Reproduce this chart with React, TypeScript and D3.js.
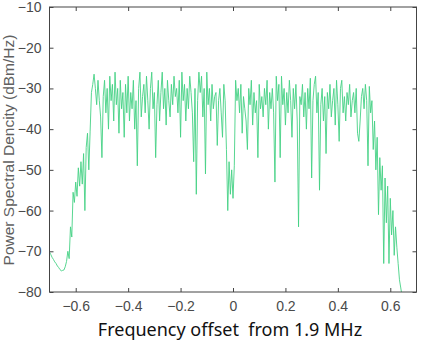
import { useEffect, useRef } from 'react'
import * as d3 from 'd3'

// frequency grid (MHz offset) - evenly spaced bins
const FREQ_START = -0.7
const FREQ_STEP = 0.005

// PSD in dBm/Hz
const leftSkirt = [
  -70.2, -70.8, -71.5, -72.0, -72.6, -73.0, -73.6, -74.0, -74.5, -74.8,
  -74.7, -74.6, -73.8, -72.5, -70.0, -71.8, -64.0, -66.5, -55.5, -58.0,
  -53.0, -56.5, -49.5, -54.0, -48.0, -53.5, -46.0, -60.0, -44.5, -41.0,
  -50.0, -40.5,
]

const plateau = [
  -31, -29, -26.5, -30, -34, -28, -33, -37, -47, -32,
  -28, -36, -30, -40, -27, -33, -29, -38, -26, -34,
  -30, -41, -28, -35, -31, -42, -29, -36, -27, -38,
  -31, -35, -28, -40, -33, -49, -30, -26, -37, -32,
  -29, -36, -27, -33, -40, -30, -26, -35, -31, -47,
  -34, -28, -38, -31, -26, -35, -30, -39, -28, -33,
  -37, -29, -34, -27, -32, -30, -36, -28, -42, -26,
  -33, -29, -38, -30, -35, -27, -31, -36, -48, -30,
  -56, -33, -26, -31, -27, -37, -30, -51, -26, -34,
  -30, -38, -29, -35, -32, -31, -44, -33, -30, -36,
  -42, -29, -33, -45, -60, -48, -56, -50, -57, -49,
  -28, -33, -30, -36, -29, -41, -32, -35, -38, -45,
  -30, -34, -28, -39, -31, -36, -33, -47, -29, -35,
  -32, -37, -30, -34, -28, -40, -31, -35, -30, -36,
  -53, -27, -33, -29, -47, -27, -34, -30, -39, -31,
  -36, -28, -33, -42, -30, -35, -29, -38, -64, -32,
  -34, -29, -37, -31, -40, -30, -35, -27.5, -52, -33,
  -29, -27, -36, -31, -55, -34, -30, -38, -32, -46,
  -31, -35, -29, -37, -33, -30, -39, -28, -34, -43,
  -30, -28, -36, -32, -38, -31, -34, -29, -37, -33,
  -31, -36, -30, -41, -43, -38, -32, -30, -35, -29,
  -33, -49,
]

const rightSkirt = [
  -29.5, -36, -33, -45, -38, -50, -42, -61, -47, -55,
  -49, -73, -52, -63, -54, -73, -57, -66, -60, -71,
  -64, -69, -73, -77, -79, -81,
]

const xTicks = [-0.6, -0.4, -0.2, 0, 0.2, 0.4, 0.6]
const yTicks = [-80, -70, -60, -50, -40, -30, -20, -10]

export default function App() {
  const svgRef = useRef<SVGSVGElement>(null)

  useEffect(() => {
    if (!svgRef.current) return

    const values = [...leftSkirt, ...plateau, ...rightSkirt]
    const data = values.map((v, i) => ({ f: FREQ_START + i * FREQ_STEP, v }))

    const W = 421, H = 343
    const margin = { top: 7, right: 4.5, bottom: 51, left: 49.5 }
    const width = W - margin.left - margin.right
    const height = H - margin.top - margin.bottom

    d3.select(svgRef.current).selectAll('*').remove()

    const root = d3.select(svgRef.current)
      .attr('width', W)
      .attr('height', H)

    const svg = root.append('g')
      .attr('transform', `translate(${margin.left},${margin.top})`)

    const x = d3.scaleLinear().domain([-0.7, 0.7]).range([0, width])
    const y = d3.scaleLinear().domain([-80, -10]).range([height, 0])

    svg.append('clipPath').attr('id', 'plot-clip')
      .append('rect').attr('width', width).attr('height', height)

    // trace
    const line = d3.line<{ f: number; v: number }>()
      .x(d => x(d.f))
      .y(d => y(d.v))

    svg.append('path')
      .datum(data)
      .attr('clip-path', 'url(#plot-clip)')
      .attr('fill', 'none')
      .attr('stroke', '#45d184')
      .attr('stroke-width', 0.9)
      .attr('stroke-linejoin', 'round')
      .attr('d', line)

    const fmt = (d: number) => (d < 0 ? '\u2212' : '') + Math.abs(d).toString()
    const tickColor = '#444'

    // bottom + top axes (ticks inward)
    const bottom = svg.append('g')
      .attr('transform', `translate(0,${height})`)
      .call(d3.axisBottom(x).tickValues(xTicks).tickSizeInner(-4).tickSizeOuter(0).tickPadding(9)
        .tickFormat(d => fmt(+d)))
    const top = svg.append('g')
      .call(d3.axisTop(x).tickValues(xTicks).tickSizeInner(-4).tickSizeOuter(0).tickFormat(() => ''))

    // left + right axes
    const left = svg.append('g')
      .call(d3.axisLeft(y).tickValues(yTicks).tickSizeInner(-4).tickSizeOuter(0).tickPadding(8)
        .tickFormat(d => fmt(+d)))
    const right = svg.append('g')
      .attr('transform', `translate(${width},0)`)
      .call(d3.axisRight(y).tickValues(yTicks).tickSizeInner(-4).tickSizeOuter(0).tickFormat(() => ''))

    for (const g of [bottom, top, left, right]) {
      g.select('.domain').remove()
      g.selectAll('line').attr('stroke', tickColor)
      g.selectAll('text')
        .attr('fill', '#4a4a4a')
        .attr('font-size', '14px')
        .attr('font-family', 'Liberation Sans, Arial, sans-serif')
    }

    // frame
    svg.append('rect')
      .attr('width', width)
      .attr('height', height)
      .attr('fill', 'none')
      .attr('stroke', tickColor)
      .attr('stroke-width', 1)

    // axis titles
    root.append('text')
      .attr('transform', `translate(14,150) rotate(-90)`)
      .attr('text-anchor', 'middle')
      .attr('fill', '#606060')
      .attr('font-size', '15.5px')
      .attr('font-family', 'Liberation Sans, Arial, sans-serif')
      .text('Power Spectral Dencity (dBm/Hz)')

    root.append('text')
      .attr('x', 230)
      .attr('y', 336)
      .attr('text-anchor', 'middle')
      .attr('fill', '#111')
      .attr('font-size', '18px')
      .attr('font-family', 'Noto Sans, Open Sans, sans-serif')
      .style('white-space', 'pre')
      .text('Frequency offset  from 1.9 MHz')
  }, [])

  return (
    <svg ref={svgRef} style={{ position: 'absolute', left: 0, top: 0, background: '#fff' }}></svg>
  )
}
